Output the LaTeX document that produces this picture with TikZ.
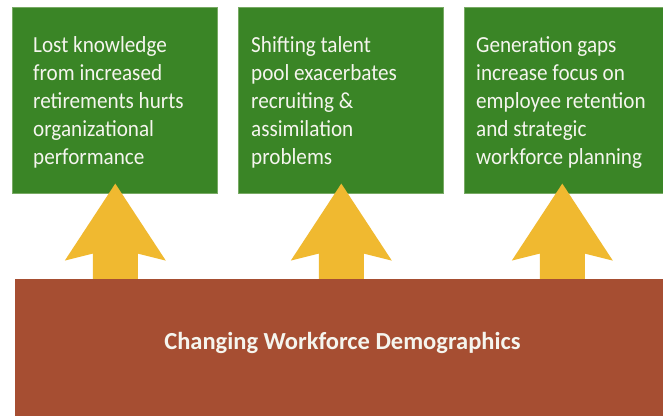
\documentclass[tikz,border=0pt]{standalone}
\usepackage{fontspec}
\setmainfont{Carlito}
\newfontfamily\boxfont[FakeStretch=0.92]{Carlito}
\usetikzlibrary{calc}
\definecolor{leafgreen}{RGB}{58,133,38}
\definecolor{rimgreen}{RGB}{120,170,100}
\definecolor{brick}{RGB}{166,78,50}
\definecolor{amber}{RGB}{240,185,48}
\definecolor{paper}{RGB}{245,245,238}
\tikzset{
  effect/.style={fill=leafgreen, draw=rimgreen, line width=0.6pt, inner sep=0pt, anchor=north west},
  effecttext/.style={text=paper, font=\boxfont\fontsize{23}{28}\selectfont, align=left, inner sep=0pt, anchor=north west},
  cause/.style={fill=brick, inner sep=0pt, anchor=north west},
  causetext/.style={text=paper, font=\bfseries\fontsize{24.5}{28}\selectfont, inner sep=0pt},
  uparrow/.style={fill=amber}
}
\begin{document}
\begin{tikzpicture}[x=1pt, y=-1pt]
  \path[use as bounding box, fill=white] (0,0) rectangle (663,415);

  % three consequence boxes
  \node[effect, minimum width=205pt, minimum height=186pt] (b1) at (12,7) {};
  \node[effect, minimum width=205pt, minimum height=186pt] (b2) at (238,7) {};
  \node[effect, minimum width=205pt, minimum height=186pt] (b3) at (464,7) {};

  \node[effecttext] (t1) at (33,36) {Lost knowledge\\from increased\\retirements hurts\\organizational\\performance};
  \node[effecttext] (t2) at (251,36) {Shifting talent\\pool exacerbates\\recruiting \&\\assimilation\\problems};
  \node[effecttext] (t3) at (476,36) {Generation gaps\\increase focus on\\employee retention\\and strategic\\workforce planning};

  % block arrows rising from the base into each box
  \foreach \b/\dx in {b1/0.5, b2/0.5, b3/-4.5}{
    \coordinate (tip-\b) at ($(\b.south)+(\dx,-10)$);
    \fill[uparrow] (tip-\b) -- ++(50.5,77) -- ++(-28,-7) -- ++(0,40)
      -- ++(-45,0) -- ++(0,-40) -- ++(-28,7) -- cycle;
  }

  % base block
  \node[cause, minimum width=660pt, minimum height=140pt] (base) at (15,279) {};
  \node[causetext] (title) at (342.5,342.5) {Changing Workforce Demographics};
\end{tikzpicture}
\end{document}
